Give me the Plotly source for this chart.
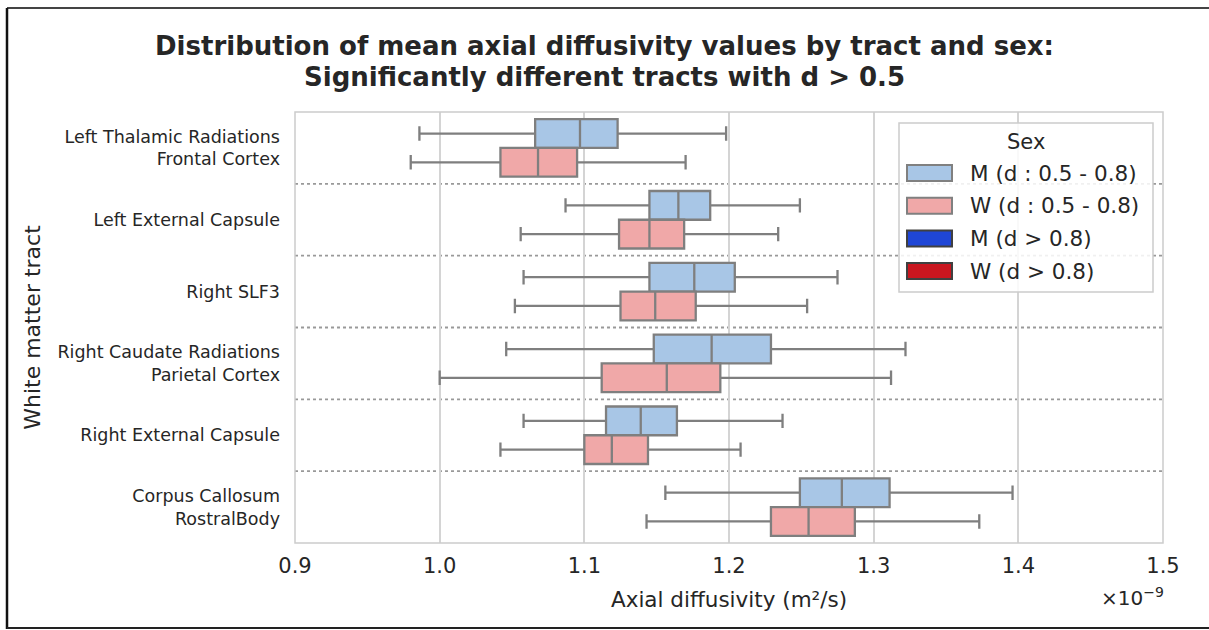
import plotly.graph_objects as go

# Tract labels (top to bottom)
tracts = [
    "Left Thalamic Radiations<br>Frontal Cortex",
    "Left External Capsule",
    "Right SLF3",
    "Right Caudate Radiations<br>Parietal Cortex",
    "Right External Capsule",
    "Corpus Callosum<br>RostralBody",
]

# Box statistics, axial diffusivity in units of 1e-9 m²/s
m_low = [0.986, 1.087, 1.058, 1.046, 1.058, 1.156]
m_q1 = [1.066, 1.145, 1.145, 1.148, 1.115, 1.249]
m_med = [1.097, 1.165, 1.176, 1.188, 1.139, 1.278]
m_q3 = [1.123, 1.187, 1.204, 1.229, 1.164, 1.311]
m_high = [1.198, 1.249, 1.275, 1.322, 1.237, 1.396]

w_low = [0.980, 1.056, 1.052, 1.000, 1.042, 1.143]
w_q1 = [1.042, 1.124, 1.125, 1.112, 1.100, 1.229]
w_med = [1.068, 1.145, 1.149, 1.157, 1.119, 1.255]
w_q3 = [1.095, 1.169, 1.177, 1.194, 1.144, 1.287]
w_high = [1.170, 1.234, 1.254, 1.312, 1.208, 1.373]

legend_labels = ["M (d : 0.5 - 0.8)", "W (d : 0.5 - 0.8)", "M (d > 0.8)", "W (d > 0.8)"]
legend_colors = ["#a8c6e6", "#f0a8a8", "#1f46d6", "#c9161f"]
legend_edges = ["#808080", "#808080", "#404040", "#404040"]

title_lines = [
    "Distribution of mean axial diffusivity values by tract and sex:",
    "Significantly different tracts with d > 0.5",
]

x_ticks = [0.9, 1.0, 1.1, 1.2, 1.3, 1.4, 1.5]

FONT = "DejaVu Sans"
TXT = "#262626"
W, H = 1209, 630
L, R, T, B = 295, 1163, 112, 543


def px(xp):
    return (xp - L) / (R - L)


def py(yp):
    return (B - yp) / (B - T)


fig = go.Figure()
for name, low, q1, med, q3, high, col in [
    ("M", m_low, m_q1, m_med, m_q3, m_high, legend_colors[0]),
    ("W", w_low, w_q1, w_med, w_q3, w_high, legend_colors[1]),
]:
    fig.add_trace(go.Box(
        name=name, y=tracts, orientation="h",
        lowerfence=low, q1=q1, median=med, q3=q3, upperfence=high,
        fillcolor=col, line=dict(color="#7f7f7f", width=2.3),
        whiskerwidth=0.5, showlegend=False, boxpoints=False,
        hoverinfo="skip",
    ))

shapes = []
# dotted separators between tracts
for i in range(len(tracts) - 1):
    shapes.append(dict(type="line", xref="paper", yref="y", x0=0, x1=1,
                       y0=i + 0.5, y1=i + 0.5,
                       line=dict(color="#999999", width=1.8, dash="dot"), layer="below"))
# plot frame
shapes.append(dict(type="rect", xref="paper", yref="paper", x0=0, x1=1, y0=0, y1=1,
                   line=dict(color="#cccccc", width=1.5)))
# outer figure border
shapes.append(dict(type="line", xref="paper", yref="paper", x0=px(7), x1=px(1209),
                   y0=py(8), y1=py(8), line=dict(color="#444444", width=2)))
shapes.append(dict(type="line", xref="paper", yref="paper", x0=px(7), x1=px(7),
                   y0=py(8), y1=py(629), line=dict(color="#111111", width=2.5)))
shapes.append(dict(type="line", xref="paper", yref="paper", x0=px(7), x1=px(1209),
                   y0=py(628), y1=py(628), line=dict(color="#222222", width=2)))

annotations = []
# two-line bold title
for k, line in enumerate(title_lines):
    annotations.append(dict(text=f"<b>{line}</b>", xref="paper", yref="paper",
                            x=px(W / 2), y=py(46 + 31 * k), showarrow=False,
                            font=dict(family=FONT, size=26, color=TXT),
                            xanchor="center", yanchor="middle"))

# custom legend
shapes.append(dict(type="rect", xref="paper", yref="paper",
                   x0=px(899), x1=px(1153), y0=py(292), y1=py(123),
                   line=dict(color="#cccccc", width=1.5), fillcolor="rgba(255,255,255,0.85)"))
annotations.append(dict(text="Sex", xref="paper", yref="paper", x=px(1026), y=py(142),
                        showarrow=False, font=dict(family=FONT, size=21, color=TXT),
                        xanchor="center", yanchor="middle"))
for k, (lab, col, edge) in enumerate(zip(legend_labels, legend_colors, legend_edges)):
    yc = 173 + k * 32.7
    shapes.append(dict(type="rect", xref="paper", yref="paper",
                       x0=px(907), x1=px(952), y0=py(yc + 8), y1=py(yc - 8),
                       line=dict(color=edge, width=2), fillcolor=col))
    annotations.append(dict(text=lab, xref="paper", yref="paper", x=px(968), y=py(yc),
                            showarrow=False, font=dict(family=FONT, size=21.5, color=TXT),
                            xanchor="left", yanchor="middle"))

# axis offset text
annotations.append(dict(text="×10<sup>−9</sup>", xref="paper", yref="paper", x=px(1166), y=py(597),
                        showarrow=False, font=dict(family=FONT, size=20, color=TXT),
                        xanchor="right", yanchor="middle"))

fig.update_layout(
    width=W, height=H,
    margin=dict(l=L, r=W - R, t=T, b=H - B),
    paper_bgcolor="white", plot_bgcolor="white",
    boxmode="group", boxgap=0.2, boxgroupgap=0.0,
    xaxis=dict(
        range=[0.9, 1.5], tickvals=x_ticks, ticktext=[f"{v:.1f}" for v in x_ticks],
        showgrid=True, gridcolor="#d4d4d4", gridwidth=1.5, zeroline=False,
        ticks="", ticklabelstandoff=8,
        tickfont=dict(family=FONT, size=21, color=TXT),
        title=dict(text="Axial diffusivity (m²/s)", font=dict(family=FONT, size=21.5, color=TXT),
                   standoff=14),
        showline=False,
    ),
    yaxis=dict(
        categoryorder="array", categoryarray=tracts, autorange="reversed",
        showgrid=False, zeroline=False, ticks="", ticklabelstandoff=14,
        tickfont=dict(family=FONT, size=17.5, color=TXT),
        title=dict(text="White matter tract", font=dict(family=FONT, size=22, color=TXT),
                   standoff=10),
    ),
    shapes=shapes, annotations=annotations,
)

fig.write_html("out.html")
